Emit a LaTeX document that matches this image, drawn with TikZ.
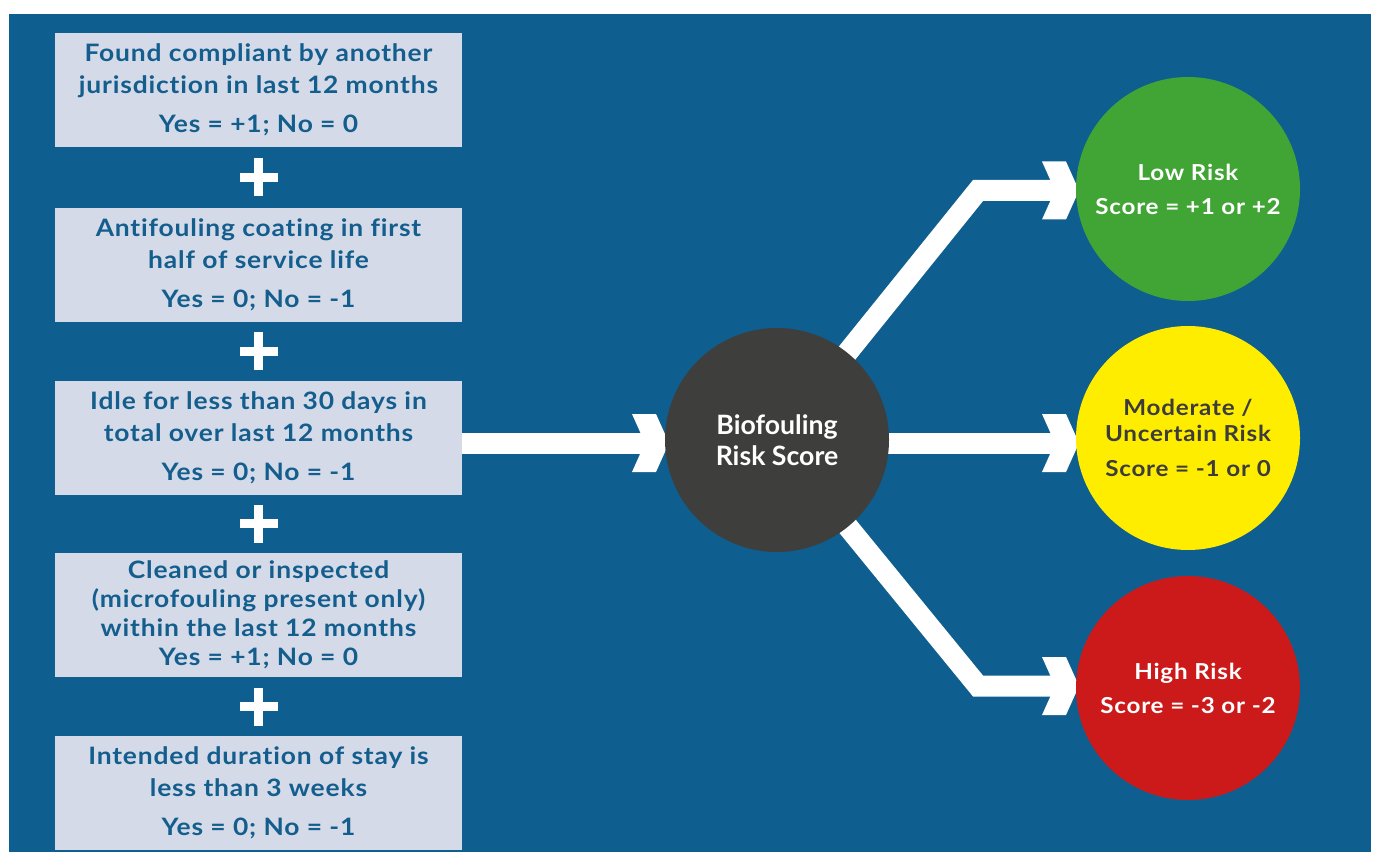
\documentclass[tikz,border=0pt]{standalone}
\usepackage{fontspec}
\setmainfont[Ligatures=NoCommon]{Lato}
\newfontfamily\wfont[FakeStretch=1.1, LetterSpace=3.5, Ligatures=NoCommon]{Lato}
\usetikzlibrary{calc}
\definecolor{bg}{HTML}{0E5E8F}
\definecolor{boxfill}{HTML}{D4DAE8}
\definecolor{boxtext}{HTML}{145E8E}
\definecolor{darkc}{HTML}{3E3E3D}
\definecolor{lowg}{HTML}{41A535}
\definecolor{mody}{HTML}{FFED00}
\definecolor{highr}{HTML}{CC1A1B}
\definecolor{ytext}{HTML}{3C3C3C}
\pgfdeclarelayer{bgl}
\pgfdeclarelayer{arr}
\pgfsetlayers{bgl,arr,main}
\tikzset{
  factor/.style={fill=boxfill, text=boxtext, minimum width=305.25pt, minimum height=85.5pt,
    inner sep=0pt, align=center, font=\wfont\fontsize{18}{24}\selectfont\bfseries},
  riskc/.style={circle, minimum size=168pt, inner sep=0pt, align=center,
    font=\wfont\fontsize{16.5}{25.5}\selectfont\bfseries},
  shaft/.style={white, line width=15.75pt, line cap=butt, line join=miter},
  plussign/.style={white, line width=6.75pt},
  chev/.pic={\fill[white] (-37,-29) -- (-13,-29) -- (0,0) -- (-13,29) -- (-37,29) -- (-24,0) -- cycle;}
}
\begin{document}
\begin{tikzpicture}[x=0.75pt,y=-0.75pt]
\useasboundingbox (0,0) rectangle (1376,852);
\begin{pgfonlayer}{bgl}
\fill[white] (0,0) rectangle (1376,852);
\fill[bg] (9,14) rectangle (1371,852);
\end{pgfonlayer}

% factor boxes
\node[factor] (b1) at (258.5,90) {Found compliant by another\\jurisdiction in last 12 months\\[5.25pt]Yes = +1; No = 0};
\node[factor] (b2) at (258.5,265) {Antifouling coating in first\\half of service life\\[5.25pt]Yes = 0; No = -1};
\node[factor] (b3) at (258.5,437.5) {Idle for less than 30 days in\\total over last 12 months\\[5.25pt]Yes = 0; No = -1};
\node[factor, minimum height=93pt, font=\wfont\fontsize{18}{21.75}\selectfont\bfseries] (b4) at (258.5,615) {Cleaned or inspected\\(microfouling present only)\\within the last 12 months\\Yes = +1; No = 0};
\node[factor] (b5) at (258.5,793) {Intended duration of stay is\\less than 3 weeks\\[5.25pt]Yes = 0; No = -1};

% plus signs
\foreach \u/\l in {b1/b2,b2/b3,b3/b4,b4/b5}{
  \coordinate (p) at ($(\u.south)!0.5!(\l.north)$);
  \draw[plussign] ($(p)+(-19,0)$) -- ($(p)+(19,0)$);
  \draw[plussign] ($(p)+(0,-19)$) -- ($(p)+(0,19)$);
}

% circles
\node[riskc, fill=darkc, text=white, font=\fontsize{20}{23.5}\selectfont\bfseries] (score) at (777,440) {Biofouling\\Risk Score};
\node[riskc, fill=lowg, text=white] (low) at (1188,189) {Low Risk\\Score = +1 or +2};
\node[riskc, fill=mody, text=ytext, font=\wfont\fontsize{16.5}{19.5}\selectfont\bfseries] (mid) at (1188,438) {Moderate /\\Uncertain Risk\\[6.75pt]Score = -1 or 0};
\node[riskc, fill=highr, text=white] (high) at (1188,688) {High Risk\\Score = -3 or -2};

% coordinates
\coordinate (tS) at (669,443);
\coordinate (tLow) at (1079,190.5);
\coordinate (tMid) at (1079,443);
\coordinate (tHigh) at (1079,686);
\coordinate (kUp) at (978,190.5);
\coordinate (kDn) at (978,686);

% connectors
\begin{pgfonlayer}{arr}
\draw[shaft] (b3.east |- tS) -- ($(tS)+(-14,0)$);
\pic at (tS) {chev};
\draw[shaft] (score.center) -- (kUp) -- ($(tLow)+(-14,0)$);
\draw[shaft] (score.center |- tMid) -- ($(tMid)+(-14,0)$);
\draw[shaft] (score.center) -- (kDn) -- ($(tHigh)+(-14,0)$);
\pic at (tLow) {chev};
\pic at (tMid) {chev};
\pic at (tHigh) {chev};
\end{pgfonlayer}
\end{tikzpicture}
\end{document}
